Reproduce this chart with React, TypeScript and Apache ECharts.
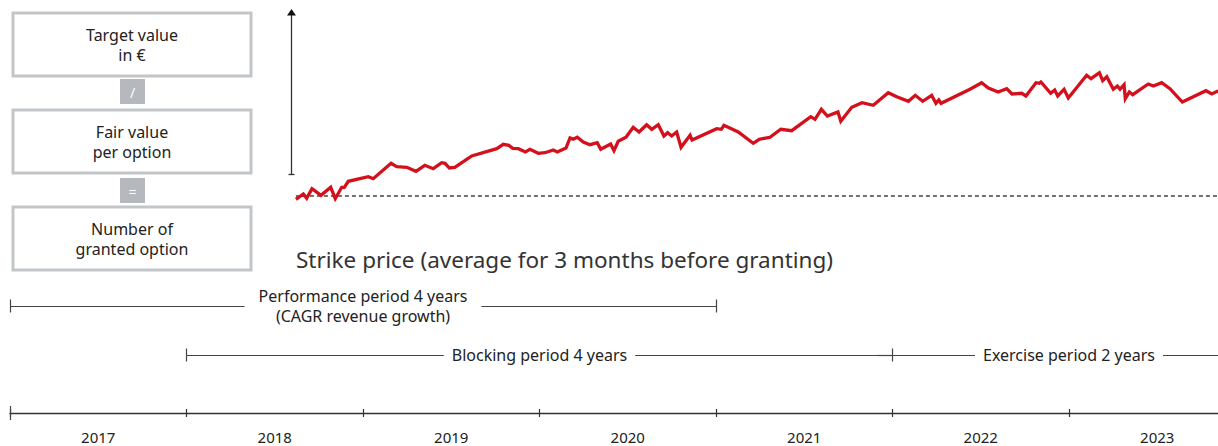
import React, { useEffect, useRef } from "react";
import * as echarts from "echarts";

// ---------- data ----------
const axisMin = 2017;
const axisMax = 2024;
const yearTicks = [2017, 2018, 2019, 2020, 2021, 2022, 2023];

// share price path (decimal year, indexed value with strike price = 100)
const stockDates = [
  2018.62, 2018.662, 2018.681, 2018.711, 2018.762, 2018.817, 2018.843, 2018.879, 2018.894, 2018.917,
  2019.03, 2019.058, 2019.159, 2019.191, 2019.248, 2019.3, 2019.35, 2019.398, 2019.446, 2019.465,
  2019.489, 2019.52, 2019.616, 2019.758, 2019.795, 2019.826, 2019.848, 2019.88, 2019.92, 2019.946,
  2019.993, 2020.031, 2020.078, 2020.101, 2020.15, 2020.173, 2020.191, 2020.214, 2020.248, 2020.286,
  2020.327, 2020.347, 2020.403, 2020.422, 2020.446, 2020.49, 2020.531, 2020.564, 2020.607, 2020.636,
  2020.673, 2020.705, 2020.726, 2020.749, 2020.777, 2020.802, 2020.853, 2020.864, 2021.004, 2021.03,
  2021.045, 2021.126, 2021.211, 2021.245, 2021.306, 2021.367, 2021.429, 2021.537, 2021.561, 2021.597,
  2021.631, 2021.691, 2021.707, 2021.769, 2021.827, 2021.891, 2021.976, 2022.024, 2022.09, 2022.129,
  2022.171, 2022.222, 2022.246, 2022.262, 2022.275, 2022.439, 2022.505, 2022.543, 2022.599, 2022.647,
  2022.677, 2022.732, 2022.756, 2022.813, 2022.832, 2022.841, 2022.896, 2022.919, 2022.936, 2022.972,
  2022.996, 2023.1, 2023.125, 2023.172, 2023.191, 2023.214, 2023.251, 2023.274, 2023.289, 2023.312,
  2023.319, 2023.342, 2023.361, 2023.449, 2023.478, 2023.525, 2023.572, 2023.642, 2023.776, 2023.809,
  2023.84, 2023.86,
];
const stockValues = [
  96.7, 102.0, 97.7, 107.3, 100.7, 108.7, 97.3, 108.7, 108.7, 114.7,
  119.3, 117.3, 132.7, 129.3, 128.7, 124.7, 130.7, 127.3, 133.3, 132.7,
  128.0, 128.7, 140.0, 147.3, 151.7, 150.7, 147.7, 147.3, 144.0, 146.7,
  142.7, 143.3, 146.0, 144.0, 148.0, 158.0, 156.7, 158.7, 154.0, 151.3,
  153.3, 146.7, 152.0, 145.3, 154.7, 158.7, 168.7, 164.0, 171.3, 166.7,
  171.3, 160.0, 163.3, 160.0, 164.0, 148.7, 160.7, 156.0, 167.3, 166.7,
  170.7, 164.0, 152.7, 156.7, 158.7, 166.7, 165.3, 179.3, 176.7, 186.7,
  180.0, 184.0, 174.7, 188.7, 193.3, 190.7, 203.3, 199.3, 194.7, 200.7,
  194.7, 200.7, 192.7, 196.0, 192.7, 206.7, 213.3, 208.0, 204.0, 207.3,
  202.0, 202.7, 200.0, 213.3, 212.7, 214.0, 202.7, 206.0, 200.0, 206.7,
  198.0, 220.7, 217.3, 223.3, 215.3, 219.3, 206.7, 210.0, 206.7, 211.3,
  197.3, 204.0, 201.3, 212.0, 210.0, 213.3, 207.3, 194.0, 205.3, 202.0,
  204.7, 205.2,
];
const strikePrice = 100;
const strikeStart = 2018.62;
const strikeCaption = "Strike price (average for 3 months before granting)";

// periods on the timeline (row = level in the timeline panel)
const periodLabels = [
  "Performance period 4 years\n(CAGR revenue growth)",
  "Blocking period 4 years",
  "Exercise period 2 years",
];
const periodStarts = [2017, 2018, 2022];
const periodEnds = [2021, 2022, 2024];
const periodRows = [107, 58, 58];
const periodTicks = [[2017, 2021], [2018], [2022]];
const overlapSegment = [2021.915, 2022];

// formula boxes (two lines each)
const formulaBoxLines = [
  ["Target value", "in €"],
  ["Fair value", "per option"],
  ["Number of", "granted option"],
];
const formulaOperators = ["/", "="];

// ---------- layout / style ----------
const FONT = "'Noto Sans', sans-serif";
const TEXT = "#222";
const LINE = "#444";
const RED = "#d3101c";
const GRID_LEFT = 10;
const YEAR_PX = 176.5;
const GRID_W = YEAR_PX * (axisMax - axisMin);

export default function App() {
  const ref = useRef<HTMLDivElement>(null);

  useEffect(() => {
    if (!ref.current) return;
    const chart = echarts.init(ref.current, undefined, { renderer: "svg" });

    const stockData = stockDates.map((d, i) => [d, stockValues[i]]);

    const markData: any[] = [];
    periodLabels.forEach((lab, i) => {
      const row = periodRows[i];
      markData.push([
        {
          coord: [periodStarts[i], row],
          label: {
            show: true,
            position: "middle",
            formatter: lab,
            color: TEXT,
            fontFamily: FONT,
            fontSize: 16,
            lineHeight: 20,
            backgroundColor: "#fff",
            padding: [0, i === 0 ? 14 : 8],
            verticalAlign: "middle",
            distance: 0,
          },
        },
        { coord: [periodEnds[i], row] },
      ]);
      periodTicks[i].forEach((t) => {
        markData.push([
          { coord: [t, row - 6.5], label: { show: false } },
          { coord: [t, row + 6.5] },
        ]);
      });
    });
    markData.push([
      { coord: [overlapSegment[0], periodRows[1]], label: { show: false } },
      { coord: [overlapSegment[1], periodRows[1]] },
    ]);
    // taller start tick of the year axis
    markData.push([
      { coord: [yearTicks[0], -7], label: { show: false } },
      { coord: [yearTicks[0], 7] },
    ]);

    const graphics: any[] = [];
    const boxTops = [13, 110, 207];
    formulaBoxLines.forEach((lines, i) => {
      graphics.push({
        type: "rect",
        shape: { x: 13, y: boxTops[i], width: 238, height: 63 },
        style: { fill: "#fff", stroke: "#c3c6c9", lineWidth: 3 },
      });
      lines.forEach((t, j) => {
        graphics.push({
          type: "text",
          x: 132,
          y: boxTops[i] + 22 + j * 20,
          style: {
            text: t,
            fill: TEXT,
            font: `16px ${FONT}`,
            align: "center",
            verticalAlign: "middle",
          },
        });
      });
    });
    const opTops = [79, 178];
    formulaOperators.forEach((o, i) => {
      graphics.push({
        type: "rect",
        shape: { x: 120, y: opTops[i], width: 25, height: 25 },
        style: { fill: "#b5b9bd" },
      });
      graphics.push({
        type: "text",
        x: 132.5,
        y: opTops[i] + 13,
        style: {
          text: o,
          fill: "#fff",
          font: `14px ${FONT}`,
          align: "center",
          verticalAlign: "middle",
        },
      });
    });
    // value arrow
    graphics.push({
      type: "line",
      shape: { x1: 291.5, y1: 174.5, x2: 291.5, y2: 14 },
      style: { stroke: "#333", lineWidth: 1.3 },
    });
    graphics.push({
      type: "polygon",
      shape: { points: [[287, 15.5], [296, 15.5], [291.5, 9]] },
      style: { fill: "#111" },
    });
    graphics.push({
      type: "line",
      shape: { x1: 288.5, y1: 174.5, x2: 294.5, y2: 174.5 },
      style: { stroke: "#333", lineWidth: 1.3 },
    });
    graphics.push({
      type: "text",
      x: 296,
      y: 259,
      style: {
        text: strikeCaption,
        fill: "#333",
        font: `22.5px ${FONT}`,
        verticalAlign: "middle",
      },
    });

    const xBase = {
      type: "value",
      min: axisMin,
      max: axisMax,
      splitLine: { show: false },
    };
    const gridBase = { left: GRID_LEFT, width: GRID_W, outerBoundsMode: "none", containLabel: false };

    chart.setOption({
      animation: false,
      backgroundColor: "#fff",
      grid: [
        { ...gridBase, top: 0, height: 200 },
        { ...gridBase, top: 290, height: 140 },
        { ...gridBase, top: 403, height: 10 },
      ],
      xAxis: [
        { ...xBase, gridIndex: 0, show: false },
        {
          ...xBase,
          gridIndex: 1,
          position: "bottom",
          interval: 1,
          axisLine: { show: true, onZero: true, lineStyle: { color: "#333", width: 1.3 } },
          axisTick: { show: true, length: 4, lineStyle: { color: "#333", width: 1.2 } },
          axisLabel: { show: false },
        },
        {
          ...xBase,
          gridIndex: 1,
          position: "top",
          offset: -123,
          interval: 1,
          axisLine: { show: false, onZero: false },
          axisTick: { show: true, length: 4, lineStyle: { color: "#333", width: 1.2 } },
          axisLabel: { show: false },
        },
        {
          ...xBase,
          gridIndex: 2,
          position: "bottom",
          interval: 0.5,
          axisLine: { show: false },
          axisTick: { show: false },
          axisLabel: {
            show: true,
            margin: 16,
            color: TEXT,
            fontFamily: FONT,
            fontSize: 15,
            formatter: (v: number) => {
              const y = Math.floor(v);
              return Math.abs(v - y - 0.5) < 1e-6 && yearTicks.includes(y) ? String(y) : "";
            },
          },
        },
      ],
      yAxis: [
        { type: "value", gridIndex: 0, min: 96, max: 296, show: false },
        { type: "value", gridIndex: 1, min: -17, max: 123, show: false },
        { type: "value", gridIndex: 2, min: 0, max: 1, show: false },
      ],
      graphic: graphics,
      series: [
        {
          type: "line",
          xAxisIndex: 0,
          yAxisIndex: 0,
          data: [[strikeStart, strikePrice], [axisMax, strikePrice]],
          symbol: "none",
          lineStyle: { color: "#444", width: 1.3, type: [4, 3] },
          silent: true,
          z: 2,
        },
        {
          type: "line",
          xAxisIndex: 0,
          yAxisIndex: 0,
          data: stockData,
          symbol: "none",
          lineStyle: { color: RED, width: 3.3, join: "miter" },
          silent: true,
          z: 3,
        },
        {
          type: "line",
          xAxisIndex: 1,
          yAxisIndex: 1,
          data: [],
          silent: true,
          markLine: {
            silent: true,
            symbol: "none",
            animation: false,
            lineStyle: { color: LINE, width: 1.2, type: "solid" },
            label: { show: false },
            data: markData,
          },
        },
      ],
    });

    return () => chart.dispose();
  }, []);

  return (
    <div
      ref={ref}
      style={{ position: "absolute", left: 0, top: 0, width: 1218, height: 446 }}
    />
  );
}
